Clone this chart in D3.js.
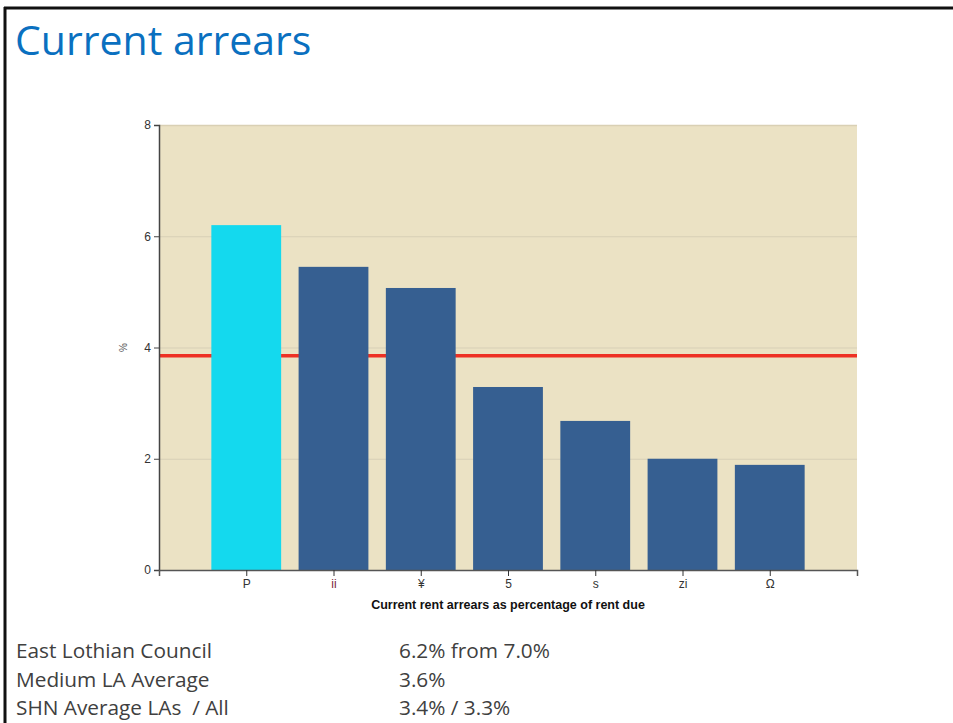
<!DOCTYPE html>
<html>
<head>
<meta charset="utf-8">
<script src="https://cdn.jsdelivr.net/npm/d3@7"></script>
<style>
  html, body { margin: 0; padding: 0; background: #fff; }
  svg { display: block; }
  .keep-space { white-space: pre; }
</style>
</head>
<body>
<svg id="chart" width="953" height="723"></svg>
<script>
// Current rent arrears by landlord (% of rent due)
const categories = ["P", "ii", "¥", "5", "s", "zi", "Ω"];
const arrears = [6.2, 5.45, 5.07, 3.29, 2.68, 2.0, 1.89];
const highlight = ["P"];
const averageLine = 3.85;
const yTicks = [0, 2, 4, 6, 8];
const summaryLabels = ["East Lothian Council", "Medium LA Average", "SHN Average LAs  / All"];
const summaryValues = ["6.2% from 7.0%", "3.6%", "3.4% / 3.3%"];

const svg = d3.select("#chart");

// slide frame (top and left rules)
svg.append("line").attr("x1", 4).attr("x2", 953).attr("y1", 8).attr("y2", 8)
  .attr("stroke", "#111").attr("stroke-width", 3);
svg.append("line").attr("x1", 5).attr("x2", 5).attr("y1", 7).attr("y2", 723)
  .attr("stroke", "#111").attr("stroke-width", 3);

// title
svg.append("text").attr("x", 15).attr("y", 55)
  .attr("font-family", "'Open Sans', 'Noto Sans', sans-serif")
  .attr("font-size", 41).attr("fill", "#0A70C0")
  .text("Current arrears");

const plot = { left: 159, right: 857, top: 125, bottom: 570 };

const x = d3.scalePoint().domain(categories).range([plot.left, plot.right]).padding(1);
const y = d3.scaleLinear().domain([0, 8]).range([plot.bottom, plot.top]);
const barW = x.step() * 0.8;

const g = svg.append("g");

// plot background
g.append("rect").attr("x", plot.left).attr("y", plot.top)
  .attr("width", plot.right - plot.left).attr("height", plot.bottom - plot.top)
  .attr("fill", "#EBE2C4");
g.append("line").attr("x1", plot.left).attr("x2", plot.right)
  .attr("y1", plot.top + 0.5).attr("y2", plot.top + 0.5)
  .attr("stroke", "#d9d0b4").attr("stroke-width", 1.5);

// gridlines
g.selectAll(".grid").data(yTicks.filter(d => d > 0 && d < 8)).join("line")
  .attr("x1", plot.left).attr("x2", plot.right)
  .attr("y1", d => y(d) + 0.5).attr("y2", d => y(d) + 0.5)
  .attr("stroke", "#d7cfb6").attr("stroke-width", 1);

// average reference line
g.append("line").attr("x1", plot.left).attr("x2", plot.right)
  .attr("y1", y(averageLine)).attr("y2", y(averageLine))
  .attr("stroke", "#EE3124").attr("stroke-width", 3.5);

// bars
g.selectAll(".bar").data(categories).join("rect")
  .attr("x", d => x(d) - barW / 2)
  .attr("y", (d, i) => y(arrears[i]))
  .attr("width", barW)
  .attr("height", (d, i) => y(0) - y(arrears[i]))
  .attr("fill", d => highlight.includes(d) ? "#14D9EE" : "#365F91");

// y axis
const yAxis = svg.append("g").attr("transform", `translate(${plot.left},0)`)
  .call(d3.axisLeft(y).tickValues(yTicks).tickSize(5).tickPadding(3));
yAxis.select(".domain").attr("stroke", "#444").attr("stroke-width", 1.5);
yAxis.selectAll(".tick line").attr("stroke", "#444");
yAxis.selectAll("text").attr("font-family", "Arial, 'Liberation Sans', sans-serif")
  .attr("font-size", 12).attr("fill", "#333");

svg.append("text")
  .attr("transform", `translate(127,${y(4)}) rotate(-90)`)
  .attr("text-anchor", "middle")
  .attr("font-family", "Arial, 'Liberation Sans', sans-serif")
  .attr("font-size", 10).attr("fill", "#555")
  .text("%");

// x axis
const xAxis = svg.append("g").attr("transform", `translate(0,${plot.bottom})`)
  .call(d3.axisBottom(x).tickSizeInner(6).tickSizeOuter(6).tickPadding(3));
xAxis.select(".domain").attr("stroke", "#555").attr("stroke-width", 1.5);
xAxis.selectAll(".tick line").attr("stroke", "#333");
xAxis.selectAll("text").attr("font-family", "Arial, 'Liberation Sans', sans-serif")
  .attr("font-size", 12)
  .attr("fill", d => d === "ii" ? "#7a2a3a" : "#333");

svg.append("text")
  .attr("x", 508).attr("y", 609)
  .attr("text-anchor", "middle")
  .attr("font-family", "Arial, 'Liberation Sans', sans-serif")
  .attr("font-size", 12.5).attr("font-weight", "bold").attr("fill", "#111")
  .text("Current rent arrears as percentage of rent due");

// summary table below the chart
const rows = svg.append("g")
  .attr("font-family", "'Open Sans', 'Noto Sans', sans-serif")
  .attr("font-size", 20.8).attr("fill", "#404040");
summaryLabels.forEach((lab, i) => {
  rows.append("text").attr("class", "keep-space").attr("x", 16).attr("y", 658 + i * 28.5).text(lab);
  rows.append("text").attr("x", 399).attr("y", 658 + i * 28.5).text(summaryValues[i]);
});
</script>
</body>
</html>
